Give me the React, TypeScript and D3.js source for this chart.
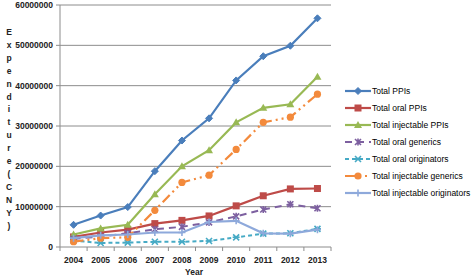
import React from "react";
import * as d3 from "d3";

const years = ["2004", "2005", "2006", "2007", "2008", "2009", "2010", "2011", "2012", "2013"];
const yTicks = [0, 10000000, 20000000, 30000000, 40000000, 50000000, 60000000];

const totalPPIs = [5.5, 7.8, 9.9, 18.8, 26.4, 31.9, 41.3, 47.3, 49.9, 56.7];
const totalOralPPIs = [2.5, 3.6, 4.3, 5.8, 6.6, 7.7, 10.2, 12.7, 14.4, 14.5];
const totalInjectablePPIs = [3.1, 4.6, 5.5, 13.1, 20.0, 24.0, 30.9, 34.5, 35.4, 42.2];
const totalOralGenerics = [2.0, 2.6, 3.4, 4.4, 5.0, 6.1, 7.6, 9.3, 10.6, 9.6];
const totalOralOriginators = [1.6, 1.0, 1.1, 1.3, 1.3, 1.5, 2.4, 3.3, 3.4, 4.5];
const totalInjectableGenerics = [1.3, 2.2, 2.4, 9.1, 16.0, 17.8, 24.2, 30.9, 32.2, 37.9];
const totalInjectableOriginators = [2.2, 2.9, 3.1, 3.6, 3.6, 6.2, 6.5, 3.4, 3.3, 4.3];

const seriesNames = [
  "Total PPIs",
  "Total oral PPIs",
  "Total injectable PPIs",
  "Total oral generics",
  "Total oral originators",
  "Total injectable generics",
  "Total injectable originators",
];

type Series = { name: string; values: number[]; color: string; dash: string; marker: string; width: number };

const series: Series[] = [
  { name: seriesNames[0], values: totalPPIs, color: "#4A7EBB", dash: "", marker: "diamond", width: 2.2 },
  { name: seriesNames[1], values: totalOralPPIs, color: "#BE4B48", dash: "", marker: "square", width: 2.2 },
  { name: seriesNames[2], values: totalInjectablePPIs, color: "#98B954", dash: "", marker: "triangle", width: 2.2 },
  { name: seriesNames[3], values: totalOralGenerics, color: "#7D60A0", dash: "7,5", marker: "x", width: 2 },
  { name: seriesNames[4], values: totalOralOriginators, color: "#46AAC5", dash: "4,3", marker: "star", width: 2 },
  { name: seriesNames[5], values: totalInjectableGenerics, color: "#F38A3C", dash: "10,4,2,4,2,4", marker: "circle", width: 2.2 },
  { name: seriesNames[6], values: totalInjectableOriginators, color: "#8EA9DB", dash: "", marker: "plus", width: 2.2 },
];

function Marker({ type, x, y, color }: { type: string; x: number; y: number; color: string }) {
  const s = 3.5;
  switch (type) {
    case "diamond":
      return <path d={`M${x},${y - s}L${x + s},${y}L${x},${y + s}L${x - s},${y}Z`} fill={color} stroke={color} strokeWidth={1} />;
    case "square":
      return <rect x={x - 3.5} y={y - 3.5} width={7} height={7} fill={color} />;
    case "triangle":
      return <path d={`M${x},${y - 4}L${x + 4},${y + 3}L${x - 4},${y + 3}Z`} fill={color} />;
    case "circle":
      return <circle cx={x} cy={y} r={3.6} fill={color} />;
    case "x":
      return (
        <path
          d={`M${x - 3},${y - 3}L${x + 3},${y + 3}M${x - 3},${y + 3}L${x + 3},${y - 3}M${x},${y - 3.5}L${x},${y + 3.5}`}
          stroke={color}
          strokeWidth={1.6}
          fill="none"
        />
      );
    case "star":
      return (
        <path
          d={`M${x - 3},${y - 3}L${x + 3},${y + 3}M${x - 3},${y + 3}L${x + 3},${y - 3}M${x - 3.5},${y}L${x + 3.5},${y}`}
          stroke={color}
          strokeWidth={1.6}
          fill="none"
        />
      );
    case "plus":
      return <path d={`M${x - 3.5},${y}L${x + 3.5},${y}M${x},${y - 3.5}L${x},${y + 3.5}`} stroke={color} strokeWidth={1.6} fill="none" />;
  }
  return null;
}

export default function App() {
  const W = 473;
  const H = 277;
  const left = 60;
  const right = 331;
  const top = 5;
  const bottom = 247;

  const x = d3.scaleBand<string>().domain(years).range([left, right]);
  const y = d3.scaleLinear().domain([0, 60000000]).range([bottom, top]);
  const cx = (yr: string) => (x(yr) as number) + x.bandwidth() / 2;

  const line = d3
    .line<number>()
    .x((_, i) => cx(years[i]))
    .y((v) => y(v * 1e6));

  const font = "'Liberation Sans', Arial, sans-serif";
  const yTitle = "Expenditure(CNY)".split("");

  const legendX = 345;
  const legendY0 = 91;
  const legendStep = 17;

  return (
    <svg width={W} height={H} style={{ position: "absolute", left: 0, top: 0, background: "#fff" }} fontFamily={font}>
      {/* gridlines */}
      {yTicks.map((t) => (
        <line key={"g" + t} x1={left} x2={right} y1={y(t)} y2={y(t)} stroke="#8C8C8C" strokeWidth={1} />
      ))}
      {/* y axis */}
      <line x1={left} x2={left} y1={top} y2={bottom} stroke="#8C8C8C" />
      {yTicks.map((t) => (
        <g key={"yt" + t}>
          <line x1={left - 4} x2={left} y1={y(t)} y2={y(t)} stroke="#8C8C8C" />
          <text x={left - 7} y={y(t) + 3} textAnchor="end" fontSize={8.5} fontWeight="bold" fill="#222">
            {t}
          </text>
        </g>
      ))}
      {/* x axis ticks */}
      {years.map((yr, i) => (
        <line key={"xt" + yr} x1={left + i * x.step()} x2={left + i * x.step()} y1={bottom} y2={bottom + 4} stroke="#8C8C8C" />
      ))}
      <line x1={right} x2={right} y1={bottom} y2={bottom + 4} stroke="#8C8C8C" />
      {years.map((yr) => (
        <text key={"xl" + yr} x={cx(yr)} y={bottom + 16} textAnchor="middle" fontSize={8.5} fontWeight="bold" fill="#222">
          {yr}
        </text>
      ))}
      <text x={194} y={275} textAnchor="middle" fontSize={8.5} fontWeight="bold" fill="#222">
        Year
      </text>
      {/* y title */}
      {yTitle.map((ch, i) => (
        <text key={"yc" + i} x={9} y={35 + i * 12.9} textAnchor="middle" fontSize={8.5} fontWeight="bold" fill="#222">
          {ch}
        </text>
      ))}
      {/* series */}
      {series.map((s) => (
        <g key={s.name}>
          <path d={line(s.values) || ""} fill="none" stroke={s.color} strokeWidth={s.width} strokeDasharray={s.dash} />
          {s.values.map((v, i) => (
            <Marker key={i} type={s.marker} x={cx(years[i])} y={y(v * 1e6)} color={s.color} />
          ))}
        </g>
      ))}
      {/* legend */}
      {series.map((s, i) => {
        const ly = legendY0 + i * legendStep;
        return (
          <g key={"lg" + s.name}>
            <line x1={legendX} x2={legendX + 26} y1={ly} y2={ly} stroke={s.color} strokeWidth={s.width} strokeDasharray={s.dash} />
            <Marker type={s.marker} x={legendX + 13} y={ly} color={s.color} />
            <text x={legendX + 27} y={ly + 3} fontSize={8.5} fill="#000" fontWeight="normal">
              {s.name}
            </text>
          </g>
        );
      })}
    </svg>
  );
}
